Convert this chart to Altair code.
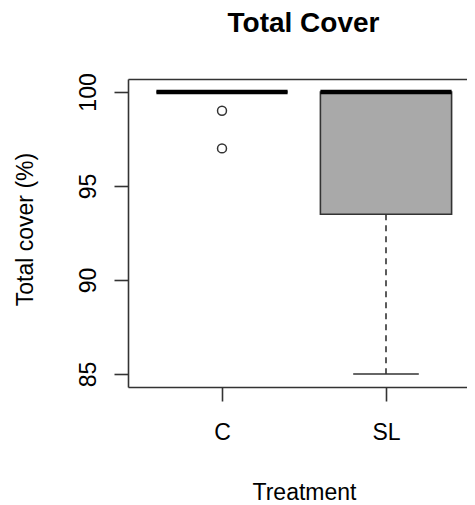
import altair as alt
import pandas as pd

# Summary statistics
treatments = ["C", "SL"]
positions = [1, 2]
lower_whisker = [100, 85]
q1 = [100, 93.5]
median = [100, 100]
q3 = [100, 100]
upper_whisker = [100, 100]
box_fill = ["#FFFFFF", "#A9A9A9"]

outlier_treatment = ["C", "C"]
outlier_pos = [1, 1]
outlier_value = [99, 97]

y_ticks = [85, 90, 95, 100]

FONT = "Liberation Sans"
LINE = "#333333"

stats = pd.DataFrame({
    "treatment": treatments,
    "pos": positions,
    "lower": lower_whisker,
    "q1": q1,
    "median": median,
    "q3": q3,
    "upper": upper_whisker,
    "fill": box_fill,
})
outliers = pd.DataFrame({"treatment": outlier_treatment, "pos": outlier_pos, "value": outlier_value})

xscale = alt.Scale(domain=[0.4268, 2.4939], nice=False, zero=False)
yscale = alt.Scale(domain=[84.31, 100.69], nice=False, zero=False)

x_axis = alt.Axis(
    title="Treatment", values=positions,
    labelExpr="datum.value == 1 ? 'C' : 'SL'",
    grid=False, domain=True, domainColor=LINE, domainWidth=1.6,
    tickSize=14, tickColor=LINE, tickWidth=1.6,
    labelFont=FONT, labelFontSize=23, labelColor="#000000",
    labelBaseline="alphabetic", labelPadding=38,
    titleFont=FONT, titleFontSize=23, titleFontWeight="normal", titleColor="#000000",
    titleBaseline="alphabetic", titleX=176, titleY=112,
)
x_top_axis = alt.Axis(
    orient="top", title=None, labels=False, ticks=False, grid=False,
    domain=True, domainColor=LINE, domainWidth=1.6,
)
y_axis = alt.Axis(
    title="Total cover (%)", values=y_ticks,
    grid=False, domain=True, domainColor=LINE, domainWidth=1.6,
    tickSize=14, tickColor=LINE, tickWidth=1.6,
    labelFont=FONT, labelFontSize=23, labelColor="#000000",
    labelAngle=270, labelAlign="center", labelBaseline="alphabetic", labelPadding=19,
    titleFont=FONT, titleFontSize=23, titleFontWeight="normal", titleColor="#000000",
    titleBaseline="alphabetic", titleAngle=270, titleX=-96, titleY=150,
)

base = alt.Chart(stats).transform_calculate(
    x_lo="datum.pos - 0.4", x_hi="datum.pos + 0.4",
    c_lo="datum.pos - 0.2", c_hi="datum.pos + 0.2",
)

boxes = base.mark_rect(stroke=LINE, strokeWidth=1.6).encode(
    x=alt.X("x_lo:Q", scale=xscale, axis=x_axis),
    x2="x_hi:Q",
    y=alt.Y("q1:Q", scale=yscale, axis=y_axis),
    y2="q3:Q",
    fill=alt.Fill("fill:N", scale=None),
)

lower_w = base.mark_rule(stroke=LINE, strokeWidth=1.6, strokeDash=[6, 5]).encode(
    x=alt.X("pos:Q", scale=xscale, axis=None), y=alt.Y("q1:Q", scale=yscale), y2="lower:Q",
)
upper_w = base.mark_rule(stroke=LINE, strokeWidth=1.6, strokeDash=[6, 5]).encode(
    x=alt.X("pos:Q", scale=xscale, axis=None), y=alt.Y("q3:Q", scale=yscale), y2="upper:Q",
)
low_cap = base.mark_rule(stroke=LINE, strokeWidth=1.6).encode(
    x=alt.X("c_lo:Q", scale=xscale, axis=None), x2="c_hi:Q", y=alt.Y("lower:Q", scale=yscale),
)
up_cap = base.mark_rule(stroke=LINE, strokeWidth=1.6).encode(
    x=alt.X("c_lo:Q", scale=xscale, axis=None), x2="c_hi:Q", y=alt.Y("upper:Q", scale=yscale),
)
med = base.mark_rule(stroke="#000000", strokeWidth=4.5).encode(
    x=alt.X("x_lo:Q", scale=xscale, axis=None), x2="x_hi:Q", y=alt.Y("median:Q", scale=yscale),
)
pts = alt.Chart(outliers).mark_point(
    shape="circle", filled=False, size=80, stroke=LINE, strokeWidth=1.5, opacity=1
).encode(
    x=alt.X("pos:Q", scale=xscale, axis=x_top_axis), y=alt.Y("value:Q", scale=yscale),
)

chart = alt.layer(boxes, lower_w, upper_w, low_cap, up_cap, med, pts).resolve_axis(
    x="independent"
).properties(
    width=339, height=308,
    background="#FFFFFF",
    title=alt.TitleParams(
        "Total Cover", font=FONT, fontSize=28, fontWeight="bold", color="#000000",
        anchor="middle", frame="group", dx=6, dy=-31,
    ),
    padding={"left": 120, "top": 71, "right": 0, "bottom": 118},
    autosize=alt.AutoSizeParams(type="none"),
).configure_view(stroke=None)

chart.save("out.html", embed_options={"renderer": "svg", "actions": False})
